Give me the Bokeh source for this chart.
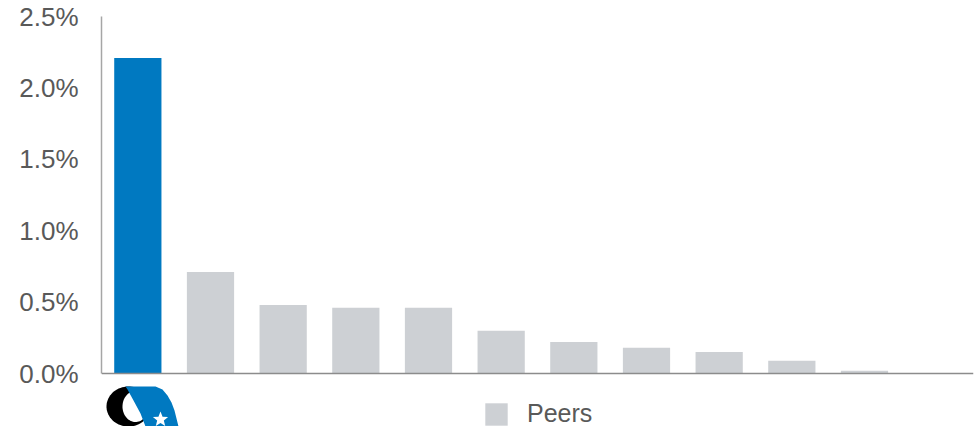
import numpy as np
from bokeh.plotting import figure
from bokeh.models import (Range1d, Legend, LegendItem, FixedTicker, Span,
                          ColumnDataSource)
from bokeh.embed import file_html
from bokeh.resources import INLINE

# ---- data ----
company = ["Company"]
company_values = [2.21]
peers = ["Peer 1", "Peer 2", "Peer 3", "Peer 4", "Peer 5",
         "Peer 6", "Peer 7", "Peer 8", "Peer 9", "Peer 10"]
peer_values = [0.71, 0.48, 0.46, 0.46, 0.30, 0.22, 0.18, 0.15, 0.09, 0.02]
n_slots = 12
y_ticks = [0.0, 0.5, 1.0, 1.5, 2.0, 2.5]
y_tick_labels = ["0.0%", "0.5%", "1.0%", "1.5%", "2.0%", "2.5%"]
legend_label = "Peers"

BLUE = "#0079c1"
GREY = "#cdd0d4"
TEXT = "#595959"
FONT = "Liberation Sans"

# layout (pixels)
W, H = 976, 426
LEFT, RIGHT, TOP = 101, 3, 16
PX_PER_UNIT = 142.8            # 2.5 units span 357 px
y_min = 2.5 - (H - TOP) / PX_PER_UNIT   # frame continues below zero for logo + legend

p = figure(width=W, height=H, output_backend="svg", toolbar_location=None,
           x_range=Range1d(0, n_slots), y_range=Range1d(y_min, 2.5),
           min_border_left=LEFT, min_border_right=RIGHT, min_border_top=TOP,
           min_border_bottom=0)
p.outline_line_color = None
p.xgrid.visible = False
p.ygrid.visible = False
p.xaxis.visible = False

comp_src = ColumnDataSource(dict(x=[i + 0.5 for i in range(len(company))],
                                 y=company_values, name=company))
peer_src = ColumnDataSource(dict(x=[len(company) + i + 0.5 for i in range(len(peers))],
                                 y=peer_values, name=peers))
p.vbar(x="x", top="y", width=0.65, source=comp_src, fill_color=BLUE, line_color=None)
peer_r = p.vbar(x="x", top="y", width=0.65, source=peer_src, fill_color=GREY, line_color=None)

p.yaxis.ticker = FixedTicker(ticks=y_ticks)
p.yaxis.bounds = (0, 2.5)
p.yaxis.major_label_overrides = {t: l for t, l in zip(y_ticks, y_tick_labels)}
p.yaxis.axis_line_color = "#a6a6a6"
p.yaxis.axis_line_width = 1.5
p.yaxis.major_tick_line_color = None
p.yaxis.minor_tick_line_color = None
p.yaxis.major_tick_out = 0
p.yaxis.major_tick_in = 0
p.yaxis.major_label_standoff = 23
p.yaxis.major_label_text_font = FONT
p.yaxis.major_label_text_font_size = "26px"
p.yaxis.major_label_text_color = TEXT

# baseline
p.add_layout(Span(location=0, dimension="width", line_color="#8c8c8c", line_width=1.5))

# ---- logo (decoration) under the first bar ----
def dx(px):
    return list((np.asarray(px, dtype=float) - LEFT) / (W - LEFT - RIGHT) * n_slots)

def dy(py):
    return list((373 - np.asarray(py, dtype=float)) / PX_PER_UNIT)

t = np.linspace(0, 2 * np.pi, 72)
outer_x, outer_y = 128 + 22 * np.cos(t), 406 - 20 * np.sin(t)
inner_x, inner_y = 135 + 13 * np.cos(t), 406 - 15.5 * np.sin(t)
blue_px = [125, 155, 162, 167, 171, 174, 176, 178, 145, 140, 133, 127]
blue_py = [386, 386, 389, 395, 402, 410, 418, 426, 426, 413, 400, 389]
sa = np.linspace(np.pi / 2, np.pi / 2 + 2 * np.pi, 11)[:-1]
sr = np.array([8, 3.5] * 5)
leaf_x, leaf_y = 160 + sr * np.cos(sa), 419 - sr * np.sin(sa)

p.patches(xs=[dx(outer_x), dx(inner_x), dx(blue_px), dx(leaf_x)],
          ys=[dy(outer_y), dy(inner_y), dy(blue_py), dy(leaf_y)],
          fill_color=["#000000", "#ffffff", BLUE, "#ffffff"], line_color=None)

# ---- legend ----
legend = Legend(items=[LegendItem(label=legend_label, renderers=[peer_r])],
                location=(381, -2), padding=0, margin=0, spacing=0,
                glyph_width=28, glyph_height=28, label_height=28, label_standoff=17,
                border_line_color=None, background_fill_alpha=0,
                label_text_font=FONT, label_text_font_size="25px",
                label_text_color=TEXT, label_text_baseline="middle")
p.add_layout(legend, "center")

open("out.html", "w").write(file_html(p, INLINE))
